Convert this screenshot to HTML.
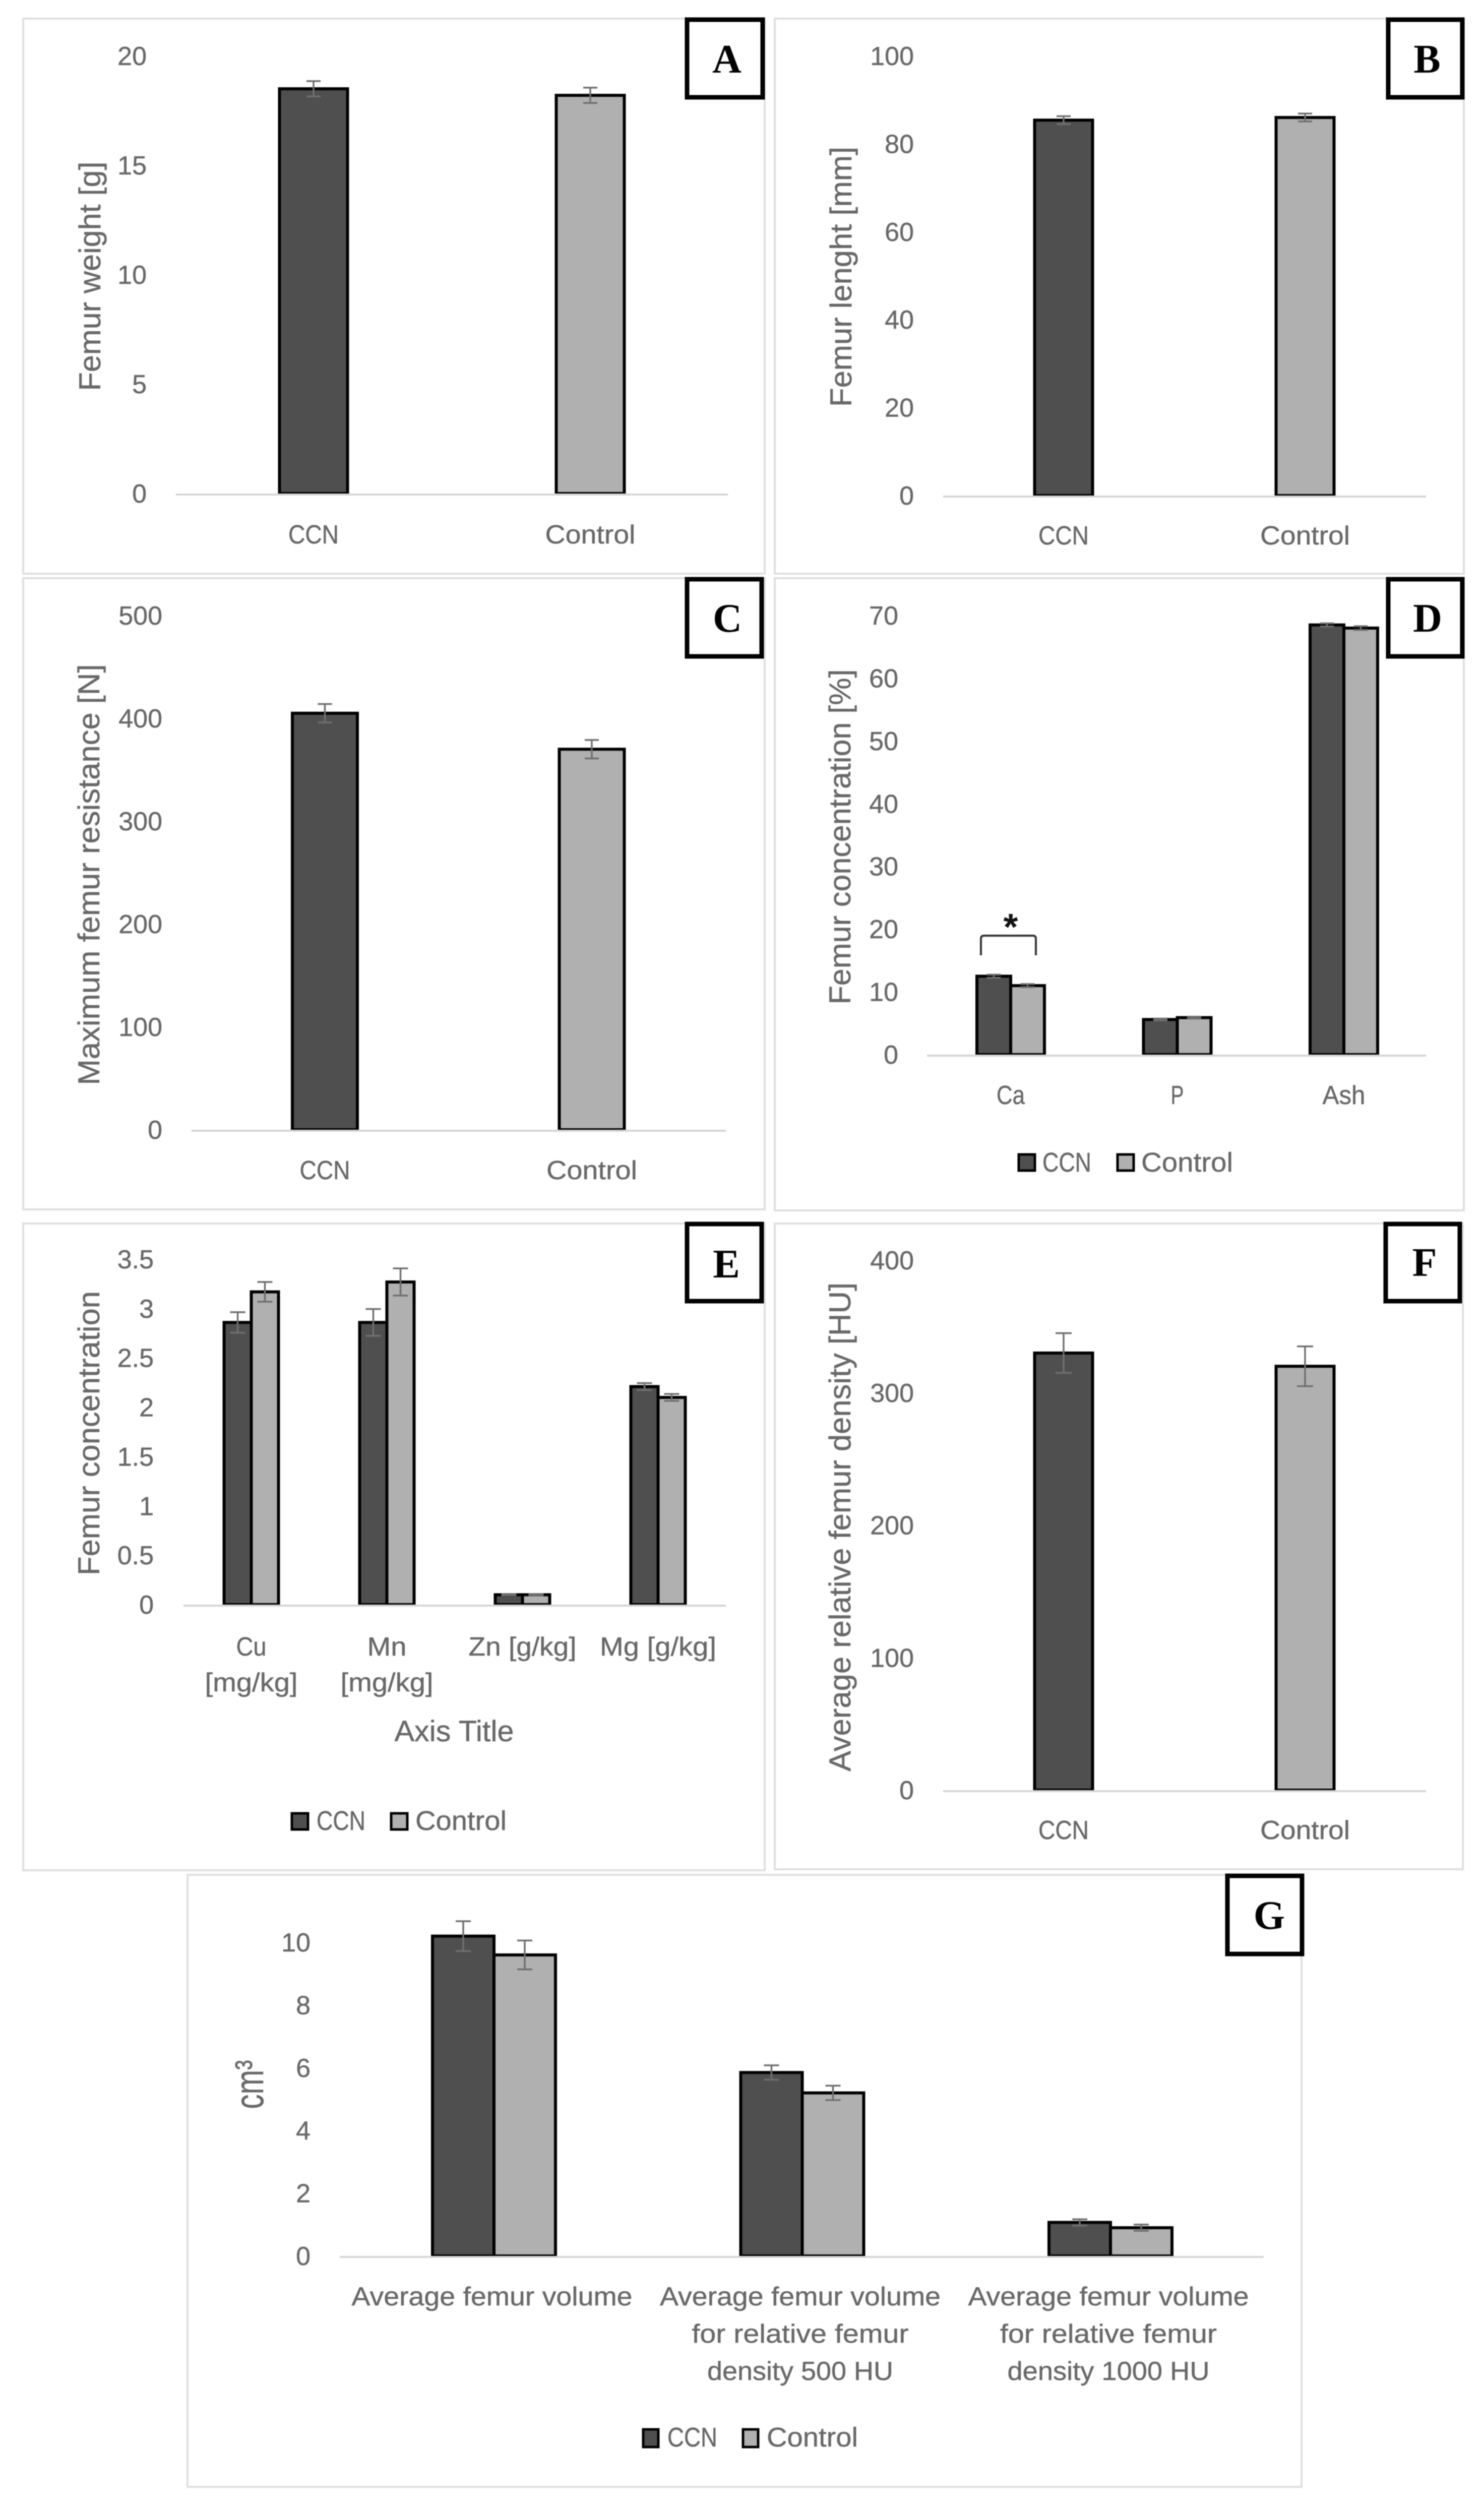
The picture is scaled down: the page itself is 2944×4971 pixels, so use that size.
<!DOCTYPE html>
<html lang="en">
<head>
<meta charset="utf-8">
<title>Femur measurements, CCN vs Control</title>
<style>
html,body{margin:0;padding:0;background:#fff}
svg{display:block;filter:blur(0.9px)}
text{font-family:"Liberation Sans",sans-serif;fill:#686868;stroke:#686868;stroke-width:0.5px}
.frame{fill:#fff;stroke:#e0e0e0;stroke-width:4}
.box{fill:#fff;stroke:#000;stroke-width:9}
.letter{font-family:"Liberation Serif",serif;font-weight:bold;font-size:80px;fill:#000;stroke:none;text-anchor:middle}
.ytitle{font-size:60px;text-anchor:middle}
.leg{font-size:54px}
.swatch{stroke:#000;stroke-width:5}
</style>
</head>
<body>
<svg xmlns="http://www.w3.org/2000/svg" width="2944" height="4971" viewBox="0 0 2944 4971">
  <rect x="0" y="0" width="2944" height="4971" fill="#fff"/>

  <rect class="frame" x="46" y="37" width="1471" height="1101"/>
  <rect class="frame" x="1537" y="37" width="1367" height="1101"/>
  <rect class="frame" x="46" y="1147" width="1471" height="1252"/>
  <rect class="frame" x="1537" y="1147" width="1367" height="1254"/>
  <rect class="frame" x="46" y="2427" width="1471" height="1283"/>
  <rect class="frame" x="1537" y="2427" width="1365" height="1281"/>
  <rect class="frame" x="372" y="3719" width="2210" height="1214"/>

  <g id="plot-a"></g>
  <g id="plot-b"></g>
  <g id="plot-c"></g>
  <g id="plot-d"></g>
  <g id="plot-e"></g>
  <g id="plot-f"></g>
  <g id="plot-g"></g>

  <text class="ytitle" transform="translate(199 548) rotate(-90)" textLength="455" lengthAdjust="spacingAndGlyphs">Femur weight [g]</text>
  <text class="ytitle" transform="translate(1689 549) rotate(-90)" textLength="516" lengthAdjust="spacingAndGlyphs">Femur lenght [mm]</text>
  <text class="ytitle" transform="translate(197 1735) rotate(-90)" textLength="835" lengthAdjust="spacingAndGlyphs">Maximum femur resistance [N]</text>
  <text class="ytitle" transform="translate(1687 1660) rotate(-90)" textLength="665" lengthAdjust="spacingAndGlyphs">Femur concentration [%]</text>
  <text class="ytitle" transform="translate(197 2843) rotate(-90)" textLength="564" lengthAdjust="spacingAndGlyphs">Femur concentration</text>
  <text class="ytitle" transform="translate(1687 3029) rotate(-90)" textLength="970" lengthAdjust="spacingAndGlyphs">Average relative femur density [HU]</text>
  <text class="ytitle" style="font-size:80px" transform="translate(522 4135) rotate(-90)" textLength="97" lengthAdjust="spacingAndGlyphs">cm³</text>

  <text x="901" y="3454" style="font-size:58px" text-anchor="middle" textLength="237" lengthAdjust="spacingAndGlyphs">Axis Title</text>

  <path d="M1946 1895 L1946 1862 Q1946 1856 1952 1856 L2049 1856 Q2055 1856 2055 1862 L2055 1895" fill="none" stroke="#333" stroke-width="4"/>
  <text x="2005" y="1864" text-anchor="middle" style="font-size:74px;font-weight:bold;fill:#111;stroke:none">*</text>

  <g>
    <rect class="swatch" x="2021" y="2290" width="32" height="32" fill="#4f4f4f"/>
    <text class="leg" x="2068" y="2324" textLength="97" lengthAdjust="spacingAndGlyphs">CCN</text>
    <rect class="swatch" x="2217" y="2290" width="32" height="32" fill="#b0b0b0"/>
    <text class="leg" x="2264" y="2324" textLength="182" lengthAdjust="spacingAndGlyphs">Control</text>
  </g>
  <g>
    <rect class="swatch" x="579" y="3597" width="32" height="32" fill="#4f4f4f"/>
    <text class="leg" x="628" y="3630" textLength="97" lengthAdjust="spacingAndGlyphs">CCN</text>
    <rect class="swatch" x="776" y="3597" width="32" height="32" fill="#b0b0b0"/>
    <text class="leg" x="824" y="3630" textLength="181" lengthAdjust="spacingAndGlyphs">Control</text>
  </g>
  <g>
    <rect class="swatch" x="1276" y="4819" width="30" height="35" fill="#4f4f4f"/>
    <text class="leg" x="1324" y="4853" textLength="99" lengthAdjust="spacingAndGlyphs">CCN</text>
    <rect class="swatch" x="1474" y="4819" width="30" height="35" fill="#b0b0b0"/>
    <text class="leg" x="1521" y="4853" textLength="181" lengthAdjust="spacingAndGlyphs">Control</text>
  </g>

  <g><rect class="box" x="1363" y="39" width="150" height="154"/><text class="letter" x="1442" y="144">A</text></g>
  <g><rect class="box" x="2754" y="39" width="147" height="154"/><text class="letter" x="2831" y="144">B</text></g>
  <g><rect class="box" x="1363" y="1149" width="148" height="153"/><text class="letter" x="1443" y="1253">C</text></g>
  <g><rect class="box" x="2754" y="1149" width="147" height="153"/><text class="letter" x="2832" y="1253">D</text></g>
  <g><rect class="box" x="1363" y="2428" width="148" height="153"/><text class="letter" x="1441" y="2534">E</text></g>
  <g><rect class="box" x="2749" y="2428" width="147" height="153"/><text class="letter" x="2826" y="2531">F</text></g>
  <g><rect class="box" x="2435" y="3721" width="148" height="155"/><text class="letter" x="2518" y="3826">G</text></g>
</svg>

<script>
// ---- Panel A ----
const aTicks = ['0', '5', '10', '15', '20'];
const aCategories = [['CCN'], ['Control']];
const aValues = [18.5, 18.2];
const aErrors = [0.35, 0.35];
// ---- Panel B ----
const bTicks = ['0', '20', '40', '60', '80', '100'];
const bCategories = [['CCN'], ['Control']];
const bValues = [85.4, 86.0];
const bErrors = [0.9, 0.9];
// ---- Panel C ----
const cTicks = ['0', '100', '200', '300', '400', '500'];
const cCategories = [['CCN'], ['Control']];
const cValues = [405, 370];
const cErrors = [9, 9];
// ---- Panel D ----
const dTicks = ['0', '10', '20', '30', '40', '50', '60', '70'];
const dCategories = [['Ca'], ['P'], ['Ash']];
const dCcn = [12.5, 5.6, 68.5];
const dControl = [11, 5.9, 68];
const dCcnErr = [0.25, 0.15, 0.25];
const dControlErr = [0.25, 0.15, 0.3];
// ---- Panel E ----
const eTicks = ['0', '0.5', '1', '1.5', '2', '2.5', '3', '3.5'];
const eCategories = [['Cu', '[mg/kg]'], ['Mn', '[mg/kg]'], ['Zn [g/kg]'], ['Mg [g/kg]']];
const eCcn = [2.86, 2.86, 0.1, 2.21];
const eControl = [3.17, 3.27, 0.1, 2.1];
const eCcnErr = [0.104, 0.136, 0.005, 0.035];
const eControlErr = [0.1, 0.138, 0.005, 0.035];
// ---- Panel F ----
const fTicks = ['0', '100', '200', '300', '400'];
const fCategories = [['CCN'], ['Control']];
const fValues = [330, 320];
const fErrors = [15, 15];
// ---- Panel G ----
const gTicks = ['0', '2', '4', '6', '8', '10'];
const gCategories = [
  ['Average femur volume'],
  ['Average femur volume', 'for relative femur', 'density 500 HU'],
  ['Average femur volume', 'for relative femur', 'density 1000 HU']
];
const gCcn = [10.2, 5.85, 1.07];
const gControl = [9.6, 5.2, 0.9];
const gCcnErr = [0.475, 0.23, 0.1];
const gControlErr = [0.46, 0.23, 0.1];

const NS = 'http://www.w3.org/2000/svg';
const FILLS = ['#4f4f4f', '#b0b0b0'];

function mk(tag, parent, attrs) {
  const node = document.createElementNS(NS, tag);
  Object.keys(attrs).forEach(function (k) { node.setAttribute(k, attrs[k]); });
  parent.appendChild(node);
  return node;
}

function drawChart(id, layout, ticks, categories, series, errors) {
  const g = document.getElementById(id);
  const yMax = parseFloat(ticks[ticks.length - 1]);
  const yScale = function (v) { return layout.base - v * (layout.base - layout.top) / yMax; };
  const xBand = function (i) { return layout.first + i * layout.step; };

  ticks.forEach(function (t) {
    const lab = mk('text', g, { x: layout.tickX, y: yScale(parseFloat(t)) + 18, 'text-anchor': 'end', 'font-size': 52 });
    
    
    lab.textContent = t;
  });

  categories.forEach(function (lines, i) {
    lines.forEach(function (line, j) {
      const lab = mk('text', g, {
        x: xBand(i) + (layout.catShift || 0),
        y: layout.catY + j * (layout.catLine || 0),
        'text-anchor': 'middle',
        'font-size': 52,
        textLength: layout.catWidths[i][j],
        lengthAdjust: 'spacingAndGlyphs'
      });
      
      
      lab.textContent = line;
    });
  });

  series.forEach(function (values, s) {
    values.forEach(function (v, i) {
      const w = layout.barW;
      const cx = layout.grouped ? xBand(i) + (s - 0.5) * w : xBand(i);
      const fill = layout.grouped ? FILLS[s] : FILLS[i];
      const bar = mk('rect', g, {
        x: cx - w / 2, y: yScale(v), width: w, height: layout.base - yScale(v),
        fill: fill, stroke: '#000', 'stroke-width': layout.strokeW
      });
      
      
    });
  });

  series.forEach(function (values, s) {
    values.forEach(function (v, i) {
      const w = layout.barW;
      const cx = layout.grouped ? xBand(i) + (s - 0.5) * w : xBand(i);
      const e = errors[s][i];
      const cap = layout.cap;
      const err = mk('path', g, {
        d: 'M' + (cx - cap) + ' ' + yScale(v + e) + 'H' + (cx + cap) +
           'M' + cx + ' ' + yScale(v + e) + 'V' + yScale(v - e) +
           'M' + (cx - cap) + ' ' + yScale(v - e) + 'H' + (cx + cap),
        fill: 'none', stroke: '#6f6f6f', 'stroke-width': 3.5
      });
      
      
    });
  });

  const axis = mk('line', g, {
    x1: layout.axisX1, x2: layout.axisX2, y1: layout.base + 2, y2: layout.base + 2,
    stroke: '#d6d6d6', 'stroke-width': 4
  });
  
  
}

drawChart('plot-a',
  { base: 979, top: 111, tickX: 291, first: 622, step: 549, barW: 135, strokeW: 6, cap: 14, axisX1: 349, axisX2: 1444, catY: 1078, catWidths: [[100], [179]], grouped: false },
  aTicks, aCategories, [aValues], [aErrors]);

drawChart('plot-b',
  { base: 983, top: 111, tickX: 1813, first: 2110, step: 479, barW: 115, strokeW: 6, cap: 14, axisX1: 1871, axisX2: 2829, catY: 1080, catWidths: [[100], [178]], grouped: false },
  bTicks, bCategories, [bValues], [bErrors]);

drawChart('plot-c',
  { base: 2241, top: 1221, tickX: 322, first: 644.5, step: 529.5, barW: 129, strokeW: 6, cap: 14, axisX1: 380, axisX2: 1440, catY: 2339, catWidths: [[100], [180]], grouped: false },
  cTicks, cCategories, [cValues], [cErrors]);

drawChart('plot-d',
  { base: 2092, top: 1221, tickX: 1782, first: 2005, step: 330.5, barW: 67, strokeW: 6, cap: 14, axisX1: 1839, axisX2: 2829, catY: 2190, catWidths: [[56], [26], [85]], grouped: true },
  dTicks, dCategories, [dCcn, dControl], [dCcnErr, dControlErr]);

drawChart('plot-e',
  { base: 3183, top: 2498, tickX: 305, first: 498.5, step: 269, barW: 54, strokeW: 6, cap: 15, axisX1: 364, axisX2: 1440, catY: 3284, catLine: 71, catWidths: [[60, 184], [78, 184], [214], [231]], grouped: true },
  eTicks, eCategories, [eCcn, eControl], [eCcnErr, eControlErr]);

drawChart('plot-f',
  { base: 3551, top: 2500, tickX: 1813, first: 2110, step: 479, barW: 115, strokeW: 6, cap: 16, axisX1: 1871, axisX2: 2829, catY: 3648, catWidths: [[100], [178]], grouped: false },
  fTicks, fCategories, [fValues], [fErrors]);

drawChart('plot-g',
  { base: 4475, top: 3853, tickX: 616, first: 980, step: 611.5, barW: 122, strokeW: 6, cap: 15, axisX1: 674, axisX2: 2507, catY: 4573, catLine: 74, catShift: -4, catWidths: [[557], [557, 430, 369], [557, 430, 401]], grouped: true },
  gTicks, gCategories, [gCcn, gControl], [gCcnErr, gControlErr]);
</script>
</body>
</html>
